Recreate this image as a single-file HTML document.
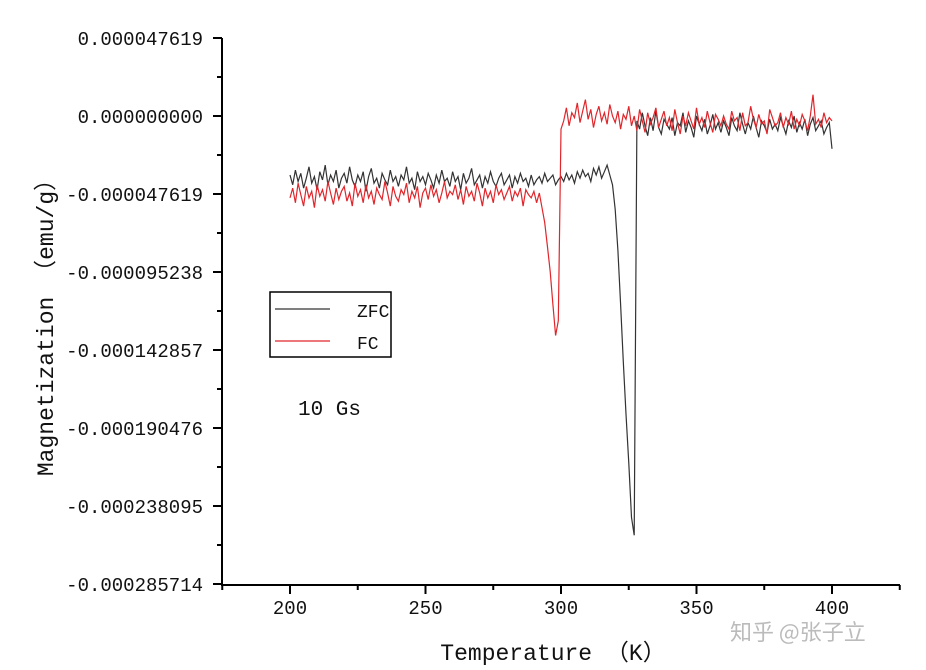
<!DOCTYPE html>
<html><head><meta charset="utf-8"><style>
html,body{margin:0;padding:0;background:#fff;}
svg{display:block;}
text{font-family:"Liberation Mono","Noto Sans CJK SC",monospace;fill:#111;}
</style></head><body>
<svg id="chart" width="926" height="670" viewBox="0 0 926 670" xmlns="http://www.w3.org/2000/svg"></svg>
<script>
const xTicks=[200,250,300,350,400];
const yTicks=[0.000047619,0,-0.000047619,-0.000095238,-0.000142857,-0.000190476,-0.000238095,-0.000285714];
const yTickLabels=["0.000047619","0.000000000","-0.000047619","-0.000095238","-0.000142857","-0.000190476","-0.000238095","-0.000285714"];
const tempStart=200;
const zfcValues=[-36,-42,-33,-40,-35,-44,-38,-31,-41,-37,-45,-34,-39,-30,-42,-36,-40,-33,-44,-38,
-35,-41,-31,-39,-43,-36,-40,-34,-46,-37,-32,-41,-38,-44,-35,-39,-42,-33,-40,-37,
-43,-36,-39,-31,-41,-38,-45,-34,-40,-37,-42,-35,-39,-44,-36,-41,-33,-40,-38,-43,
-34,-40,-37,-45,-35,-41,-38,-32,-42,-39,-36,-44,-37,-41,-34,-40,-43,-38,-35,-42,
-39,-36,-44,-37,-41,-35,-40,-38,-43,-36,-42,-39,-37,-41,-35,-40,-38,-36,-42,-39,
-37,-40,-35,-39,-36,-41,-34,-38,-33,-37,-35,-40,-32,-36,-31,-38,-34,-30,-36,-42,
-57,-82,-115,-150,-182,-212,-245,-256,-3,-8,2,-6,-12,-1,-9,3,-7,-11,-2,-5,
-8,-1,-12,-4,-6,2,-10,-3,-7,-13,0,-5,-9,-2,-11,-6,1,-8,-4,-10,
-3,-7,-12,-1,-6,-9,2,-5,-11,-4,-8,0,-7,-13,-3,-6,-10,-2,-8,-5,
-9,-1,-6,-11,-3,-7,0,-10,-4,-8,-2,-12,-5,-1,-9,-6,-3,-11,-7,-4,-20];
const fcValues=[-50,-44,-53,-41,-48,-55,-43,-50,-46,-56,-42,-49,-45,-52,-40,-47,-54,-44,-51,-46,
-43,-52,-47,-55,-41,-49,-45,-53,-42,-50,-46,-54,-44,-48,-51,-40,-47,-55,-43,-49,
-52,-45,-48,-41,-53,-46,-50,-43,-56,-47,-44,-51,-42,-49,-45,-53,-47,-40,-50,-46,
-48,-42,-51,-45,-54,-43,-49,-46,-52,-41,-47,-55,-44,-50,-46,-53,-42,-48,-45,-51,
-47,-43,-52,-46,-49,-44,-55,-45,-48,-50,-46,-53,-47,-56,-65,-80,-95,-115,-134,-125,
-8,-3,5,-6,2,-1,8,-4,3,10,-2,4,-7,1,6,-3,2,-5,7,0,
-4,3,-8,1,-2,6,-6,0,-9,4,-3,-10,2,-5,-1,5,-7,-2,3,-6,
-1,-9,4,-4,-11,0,-6,2,-3,-8,5,-5,-1,-7,3,-4,-10,1,-2,-6,
0,-5,-8,3,-3,-1,-9,2,-6,-4,6,-2,-7,1,-5,-3,-11,4,-1,-6,
-4,2,-7,-1,-5,3,-8,-2,-6,1,-3,-9,0,13,-5,-2,-7,2,-4,-1,-3];
const unit=1e-6;
const svg=document.getElementById('chart');
const NS='http://www.w3.org/2000/svg';
const X0=222,X1=900,Y0=585,Y1=38;
function xs(t){return 290+(t-200)*(832-290)/200;}
function ys(v){return 116-v*(78/0.000047619);}
function mk(tag,attrs,parent){const e=document.createElementNS(NS,tag);for(const k in attrs)e.setAttribute(k,attrs[k]);(parent||svg).appendChild(e);return e;}
let e=mk('line',{x1:X0,y1:Y1,x2:X0,y2:Y0+1,stroke:'#000','stroke-width':2});


e=mk('line',{x1:X0-1,y1:Y0,x2:X1,y2:Y0,stroke:'#000','stroke-width':2});


yTicks.forEach((v,i)=>{
  const y=ys(v);
  let t=mk('line',{x1:X0-9,y1:y,x2:X0,y2:y,stroke:'#000','stroke-width':2});
  
  
  if(i<yTicks.length-1){const ym=(y+ys(yTicks[i+1]))/2;
    let m=mk('line',{x1:X0-5,y1:ym,x2:X0,y2:ym,stroke:'#000','stroke-width':2});
    
    }
  let l=mk('text',{x:203,y:y+7,'text-anchor':'end','font-size':19});
  l.textContent=yTickLabels[i];
  
  
});
for(let t=175;t<=425;t+=25){
  const x=xs(t);const major=(t%50===0);
  let k=mk('line',{x1:x,y1:Y0,x2:x,y2:Y0+(major?9:5),stroke:'#000','stroke-width':2});
  
  
}
xTicks.forEach(t=>{
  let l=mk('text',{x:xs(t),y:614,'text-anchor':'middle','font-size':19});
  l.textContent=String(t);
  
  
});
function series(vals,color,name){
  const pts=vals.map((v,i)=>xs(tempStart+i).toFixed(1)+','+ys(v*unit).toFixed(1)).join(' ');
  const p=mk('polyline',{points:pts,fill:'none',stroke:color,'stroke-width':1.2});
  
  
}
series(zfcValues,'#333','zfc-line');
series(fcValues,'#e0262b','fc-line');
</script>
<svg style="position:absolute;left:0;top:0" width="926" height="670">
<g>
<rect x="270" y="292" width="121" height="65" fill="#fff" stroke="#000" stroke-width="1.5"/>
<line x1="275" y1="309" x2="330" y2="309" stroke="#333" stroke-width="1.2"/>
<text x="357" y="317" font-size="18" style="font-family:'Liberation Mono',monospace">ZFC</text>
<line x1="275" y1="341" x2="330" y2="341" stroke="#e0262b" stroke-width="1.2"/>
<text x="357" y="349" font-size="18" style="font-family:'Liberation Mono',monospace">FC</text>
</g>
<text x="298" y="415" font-size="21" style="font-family:'Liberation Mono',monospace">10 Gs</text>
<text x="553" y="660" text-anchor="middle" font-size="23" style="font-family:'Liberation Mono','Noto Sans CJK SC',monospace">Temperature （K）</text>
<text transform="translate(53,322) rotate(-90)" text-anchor="middle" font-size="23" style="font-family:'Liberation Mono','Noto Sans CJK SC',monospace">Magnetization （emu/g）</text>
<text x="730" y="640" font-size="22" style="font-family:'Noto Sans CJK SC',sans-serif;fill:#bbb">知乎 @张子立</text>
</svg>
</body></html>
